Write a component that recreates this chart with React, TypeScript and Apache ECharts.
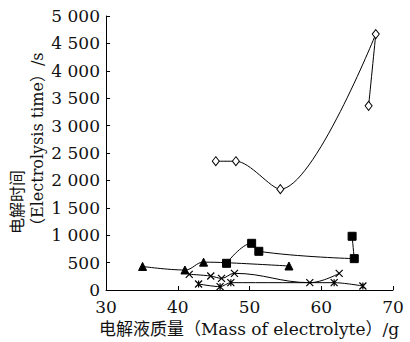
import React, { useEffect, useRef } from "react";
import * as echarts from "echarts";

const xTicks = [30, 40, 50, 60, 70];
const yMax = 5000;
const yStep = 500;

// Series: [mass (g), electrolysis time (s)]
const diamondSeries: [number, number][] = [
  [45.3, 2350], [48.1, 2350], [54.3, 1840], [67.6, 4670], [66.6, 3360],
];
const squareSeries: [number, number][] = [
  [46.8, 487], [50.3, 852], [51.3, 706], [64.6, 572], [64.3, 980],
];
const triangleSeries: [number, number][] = [
  [35.1, 430], [41.0, 365], [43.6, 508], [46.8, 498], [55.5, 438],
];
const triangleHidden = [false, false, false, true, false];
const crossSeries: [number, number][] = [
  [41.6, 286], [44.6, 255], [46.1, 213], [47.9, 304], [58.4, 134], [62.5, 304],
];
const starSeries: [number, number][] = [
  [42.9, 110], [45.9, 61], [47.4, 134], [61.8, 134], [65.8, 73],
];

const FONT = '"DejaVu Serif", "Noto Sans CJK SC", serif';

export default function App() {
  const ref = useRef<HTMLDivElement>(null);
  useEffect(() => {
    if (!ref.current) return;
    const chart = echarts.init(ref.current, undefined, { renderer: "svg" });
    const line = { color: "#000", width: 1 };
    const item = { color: "#000", borderColor: "#000", borderWidth: 1 };
    const pathItem = { color: "none", borderColor: "#000", borderWidth: 1.2 };
    chart.setOption({
      animation: false,
      backgroundColor: "#fff",
      grid: { left: 106, right: 17, top: 16, bottom: 52 },
      xAxis: {
        type: "value",
        min: xTicks[0],
        max: xTicks[xTicks.length - 1],
        interval: 10,
        axisLine: { show: true, lineStyle: { color: "#000", width: 1 } },
        axisTick: { show: true, inside: true, length: 4, lineStyle: { color: "#000" } },
        axisLabel: { color: "#111", fontSize: 17, fontFamily: FONT, margin: 8 },
        splitLine: { show: false },
      },
      yAxis: {
        type: "value",
        min: 0,
        max: yMax,
        interval: yStep,
        axisLine: { show: true, lineStyle: { color: "#000", width: 1 } },
        axisTick: { show: true, inside: true, length: 4, lineStyle: { color: "#000" } },
        axisLabel: {
          color: "#111",
          fontSize: 17,
          fontFamily: FONT,
          margin: 6,
          formatter: (v: number) =>
            v >= 1000 ? `${Math.floor(v / 1000)} ${String(v % 1000).padStart(3, "0")}` : String(v),
        },
        splitLine: { show: false },
      },
      series: [
        {
          type: "line",
          data: triangleSeries.map((d, i) =>
            triangleHidden[i] ? { value: d, symbol: "none" } : { value: d }
          ),
          smooth: 0.4,
          symbol: "triangle",
          symbolSize: 8,
          lineStyle: line,
          itemStyle: item,
          z: 2,
        },
        {
          type: "line",
          data: squareSeries,
          smooth: 0.4,
          symbol: "rect",
          symbolSize: 8,
          lineStyle: line,
          itemStyle: item,
          z: 3,
        },
        {
          type: "line",
          data: crossSeries,
          smooth: 0.4,
          symbol: "path://M0,0L10,10M10,0L0,10",
          symbolSize: 7,
          lineStyle: line,
          itemStyle: pathItem,
          z: 3,
        },
        {
          type: "line",
          data: starSeries,
          smooth: 0.3,
          symbol: "path://M0,0L10,10M10,0L0,10M5,0L5,10",
          symbolSize: 7,
          lineStyle: line,
          itemStyle: pathItem,
          z: 3,
        },
        {
          type: "line",
          data: diamondSeries,
          smooth: 0.3,
          symbol: "diamond",
          symbolSize: [7, 9],
          lineStyle: line,
          itemStyle: { color: "#fff", borderColor: "#000", borderWidth: 1 },
          z: 3,
        },
      ],
      graphic: [
        {
          type: "text",
          x: 7,
          y: 234,
          rotation: Math.PI / 2,
          style: {
            text: "电解时间\n（Electrolysis time）/s",
            fontSize: 16,
            fontFamily: FONT,
            lineHeight: 20,
            fill: "#111",
            textAlign: "left",
            textVerticalAlign: "top",
          },
        },
        {
          type: "text",
          x: 249,
          y: 329,
          style: {
            text: "电解液质量（Mass of electrolyte）/g",
            fontSize: 17,
            fontFamily: FONT,
            fill: "#111",
            textAlign: "center",
            textVerticalAlign: "middle",
          },
        },
      ],
    });
    return () => chart.dispose();
  }, []);
  return <div ref={ref} style={{ width: 410, height: 342, position: "absolute", left: 0, top: 0 }} />;
}
